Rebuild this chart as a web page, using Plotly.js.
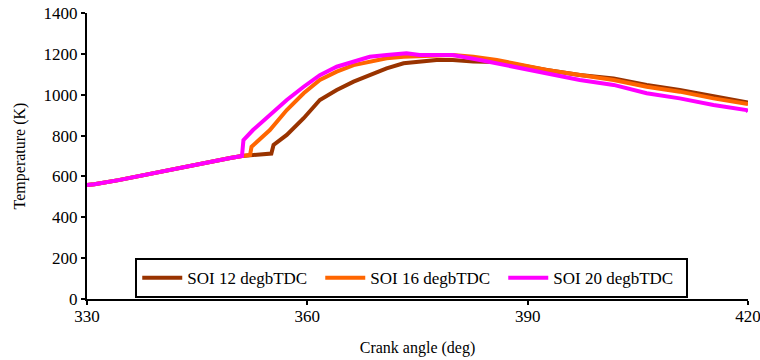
<!DOCTYPE html>
<html>
<head>
<meta charset="utf-8">
<script src="https://cdn.plot.ly/plotly-3.0.1.min.js"></script>
<style>html,body{margin:0;padding:0;background:#fff;}#chart{width:760px;height:360px;}</style>
</head>
<body>
<div id="chart"></div>
<script>
// Shared compression part (crank angle deg, temperature K)
const commonAngle = [330, 331, 334.3, 336.5, 338.8, 341, 343.3, 345.6, 347.9, 349.5, 351.1];
const commonTemp  = [558, 562, 582, 598, 615, 632, 648, 664, 680, 690, 700];

// SOI 12 degbTDC
const soi12Angle = [352.4, 355.1, 355.4, 357.2, 359.5, 361.7, 364.0, 366.3, 368.5, 370.8, 373.1, 375.3, 377.6, 379.8, 382.6, 385.8, 388.0, 392.6, 397.1, 401.7, 406.2, 410.7, 415.3, 420];
const soi12Temp  = [705, 712, 754, 803, 885, 974, 1023, 1064, 1096, 1129, 1154, 1162, 1170, 1170, 1162, 1160, 1150, 1121, 1096, 1080, 1048, 1023, 991, 962];

// SOI 16 degbTDC
const soi16Angle = [352.2, 352.4, 354.9, 357.2, 359.5, 361.7, 364.0, 366.3, 368.5, 370.8, 373.1, 375.3, 379.8, 382.6, 385.8, 388.0, 392.6, 397.1, 401.7, 406.2, 410.7, 415.3, 420];
const soi16Temp  = [705, 745, 827, 925, 1007, 1072, 1113, 1145, 1162, 1178, 1186, 1190, 1194, 1186, 1170, 1154, 1121, 1096, 1072, 1039, 1015, 982, 955];

// SOI 20 degbTDC
const soi20Angle = [351.3, 352.6, 354.9, 357.2, 359.5, 361.7, 364.0, 366.3, 368.5, 370.8, 373.5, 375.3, 379.8, 383.5, 385.8, 388.0, 392.6, 397.1, 401.7, 406.2, 410.7, 415.3, 419.8, 420];
const soi20Temp  = [778, 827, 900, 974, 1039, 1096, 1137, 1162, 1186, 1194, 1203, 1194, 1194, 1170, 1154, 1137, 1105, 1072, 1048, 1007, 982, 950, 925, 918];

const seriesNames = ["SOI 12 degbTDC", "SOI 16 degbTDC", "SOI 20 degbTDC"];
const seriesColors = ["#993300", "#FF6600", "#FF00FF"];
const xTicks = [330, 360, 390, 420];
const yTicks = [0, 200, 400, 600, 800, 1000, 1200, 1400];

const xs = [soi12Angle, soi16Angle, soi20Angle];
const ys = [soi12Temp, soi16Temp, soi20Temp];

const traces = xs.map((xa, i) => ({
  type: "scatter",
  mode: "lines",
  name: seriesNames[i],
  x: commonAngle.concat(xa),
  y: commonTemp.concat(ys[i]),
  line: {color: seriesColors[i], width: 4}
}));

const serif = "'Liberation Serif', 'Times New Roman', serif";

const layout = {
  width: 760, height: 360,
  margin: {l: 87, r: 12, t: 13, b: 61},
  paper_bgcolor: "#fff", plot_bgcolor: "#fff",
  font: {family: serif, size: 16, color: "#000"},
  showlegend: true,
  legend: {
    orientation: "h",
    x: 0.073, y: 0.143, xanchor: "left", yanchor: "top",
    bordercolor: "#000", borderwidth: 2,
    font: {family: serif, size: 17, color: "#000"},
    bgcolor: "#fff",
    itemwidth: 40,
    entrywidth: 128, entrywidthmode: "pixels"
  },
  xaxis: {
    range: [330, 420], tickmode: "array", tickvals: xTicks,
    showgrid: false, zeroline: false,
    showline: true, linecolor: "#000", linewidth: 2,
    ticks: "outside", ticklen: 4, tickwidth: 2, tickcolor: "#000",
    tickfont: {family: serif, size: 17},
    ticklabeloverflow: "allow",
    ticklabelstandoff: -3,
    title: {text: "Crank angle (deg)", font: {family: serif, size: 16}, standoff: 16}
  },
  yaxis: {
    range: [0, 1400], tickmode: "array", tickvals: yTicks,
    showgrid: false, zeroline: false,
    showline: true, linecolor: "#000", linewidth: 2,
    ticks: "outside", ticklen: 4, tickwidth: 2, tickcolor: "#000",
    tickfont: {family: serif, size: 17},
    title: {text: "Temperature (K)", font: {family: serif, size: 16}, standoff: 14}
  }
};

Plotly.newPlot("chart", traces, layout, {displayModeBar: false, staticPlot: true});
</script>
</body>
</html>
